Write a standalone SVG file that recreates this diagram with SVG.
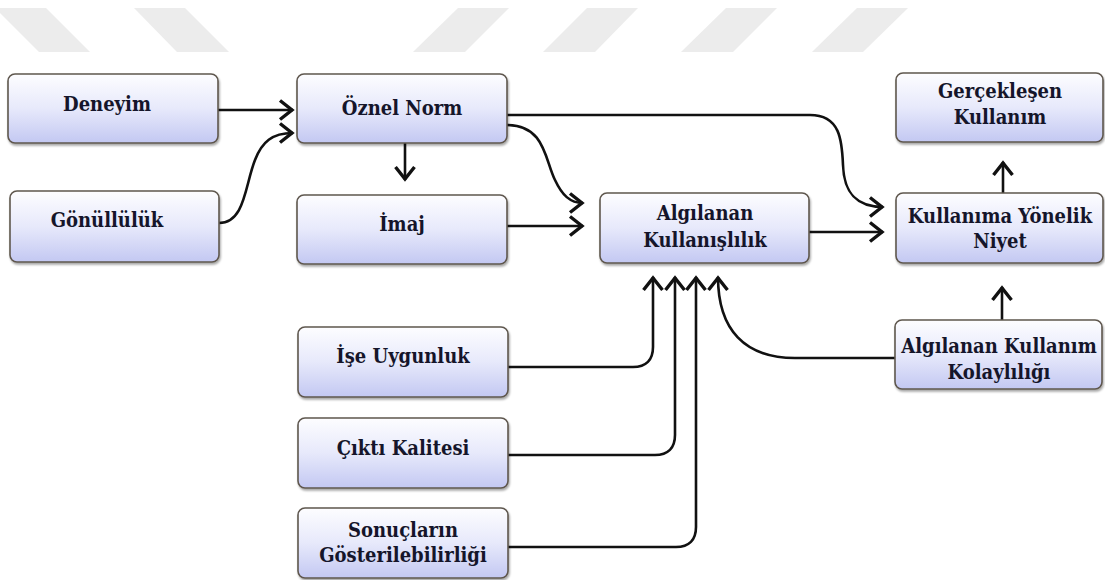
<svg xmlns="http://www.w3.org/2000/svg" width="1105" height="580" viewBox="0 0 1105 580">
<defs>
<linearGradient id="bg" x1="0" y1="0" x2="0" y2="1">
<stop offset="0" stop-color="#fdfdff"/>
<stop offset="0.5" stop-color="#e7e9fb"/>
<stop offset="1" stop-color="#c3c8f2"/>
</linearGradient>
<filter id="sh" x="-10%" y="-10%" width="120%" height="130%">
<feDropShadow dx="1" dy="2" stdDeviation="1.2" flood-color="#000" flood-opacity="0.35"/>
</filter>
<marker id="ah" markerUnits="userSpaceOnUse" markerWidth="20" markerHeight="24" viewBox="-16 -12 20 24" refX="0" refY="0" orient="auto" overflow="visible">
<path d="M-13,-9.5 L-1,0 L-13,9.5" fill="none" stroke="#111" stroke-width="3.4" stroke-linejoin="miter"/>
</marker>
<style>
.box{fill:url(#bg);stroke:#5e574e;stroke-width:1.6;filter:url(#sh)}
.t{font-family:'DejaVu Serif Condensed','DejaVu Serif',serif;font-stretch:condensed;font-weight:700;font-size:20px;fill:#15152a;text-anchor:middle}
.c{fill:none;stroke:#111;stroke-width:2.6;marker-end:url(#ah)}
.wm{fill:#ececec}
</style>
</defs>
<rect width="1105" height="580" fill="#ffffff"/>
<g id="watermark">
<polygon class="wm" points="-5,8 46,8 90,52 39,52"/>
<polygon class="wm" points="134,8 185,8 229,52 177,52"/>
<polygon class="wm" points="458,8 509,8 465,52 413,52"/>
<polygon class="wm" points="587,8 638,8 595,52 543,52"/>
<polygon class="wm" points="726,8 777,8 733,52 681,52"/>
<polygon class="wm" points="857,8 908,8 863,52 812,52"/>
</g>
<g id="connectors">
<path class="c" d="M218,110 H293"/>
<path class="c" d="M219,223 C245,223 245,185 255,160 C262,142 272,133 293,133"/>
<path class="c" d="M405,143 V180"/>
<path class="c" d="M507,125 C545,125 545,160 555,180 C562,195 570,203 583,203"/>
<path class="c" d="M507,226 H583"/>
<path class="c" d="M507,115 H810 C840,115 842,140 843,165 C844,195 858,207 883,207"/>
<path class="c" d="M809,232 H883"/>
<path class="c" d="M1003,193 V162"/>
<path class="c" d="M1002,320 V287"/>
<path class="c" d="M508,367 H633 C646,367 653,360 653,347 V277"/>
<path class="c" d="M508,455 H655 C668,455 675,448 675,435 V277"/>
<path class="c" d="M508,547 H676 C689,547 696,540 696,527 V277"/>
<path class="c" d="M895,358 H795 C745,358 718,330 718,277"/>
</g>
<g id="n-deneyim"><rect class="box" x="8" y="74" width="210" height="69" rx="7"/><text class="t" x="107" y="111">Deneyim</text></g>
<g id="n-gonulluluk"><rect class="box" x="10" y="191" width="209" height="71" rx="7"/><text class="t" x="107" y="227">Gönüllülük</text></g>
<g id="n-oznel"><rect class="box" x="297" y="74" width="210" height="69" rx="7"/><text class="t" x="402" y="115">Öznel Norm</text></g>
<g id="n-imaj"><rect class="box" x="297" y="195" width="210" height="69" rx="7"/><text class="t" x="402" y="231">İmaj</text></g>
<g id="n-algilanan"><rect class="box" x="600" y="193" width="209" height="70" rx="7"/><text class="t" x="705" y="220">Algılanan</text><text class="t" x="705" y="247">Kullanışlılık</text></g>
<g id="n-gerceklesen"><rect class="box" x="896" y="73" width="207" height="69" rx="7"/><text class="t" x="1000" y="98">Gerçekleşen</text><text class="t" x="1000" y="124">Kullanım</text></g>
<g id="n-niyet"><rect class="box" x="896" y="193" width="207" height="70" rx="7"/><text class="t" x="1000" y="223">Kullanıma Yönelik</text><text class="t" x="1000" y="248">Niyet</text></g>
<g id="n-kolaylik"><rect class="box" x="895" y="320" width="207" height="69" rx="7"/><text class="t" x="999" y="353">Algılanan Kullanım</text><text class="t" x="999" y="379">Kolaylılığı</text></g>
<g id="n-ise"><rect class="box" x="298" y="327" width="210" height="70" rx="7"/><text class="t" x="403" y="363">İşe Uygunluk</text></g>
<g id="n-cikti"><rect class="box" x="298" y="418" width="210" height="70" rx="7"/><text class="t" x="403" y="455">Çıktı Kalitesi</text></g>
<g id="n-sonuclar"><rect class="box" x="298" y="508" width="210" height="70" rx="7"/><text class="t" x="403" y="537">Sonuçların</text><text class="t" x="403" y="562">Gösterilebilirliği</text></g>
</svg>
